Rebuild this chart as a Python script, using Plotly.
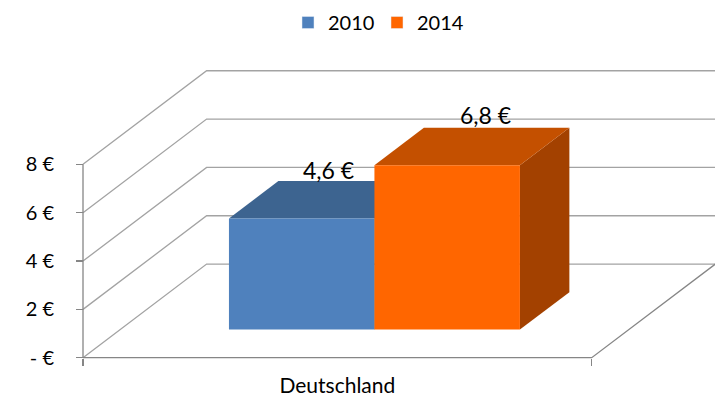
import plotly.graph_objects as go

# ---- data ----
categories = ["Deutschland"]
series_names = ["2010", "2014"]
values = [4.6, 6.8]
value_labels = ["4,6 €", "6,8 €"]
tick_values = [0, 2, 4, 6, 8]
tick_labels = ["- €", "2 €", "4 €", "6 €", "8 €"]

# ---- styling ----
front_colors = ["#4F81BD", "#FF6600"]
top_colors = ["#3D6490", "#C45000"]
side_colors = ["#2F4F75", "#A34100"]
label_shift = [(2, -30), (14, -32)]   # pixel nudges for the value labels
grid_color = "#A3A3A3"
axis_color = "#868686"
FONT = "Lato"

# oblique projection of the depth axis (x in category units, y in euros)
DX, DY = 0.2430, 3.8726
D0, D1 = 0.3, 0.7          # depth span of the bars (fraction of floor depth)
BAR_W = 0.286              # width of one bar in category units
CENTER = 0.5


def proj(u, v, d):
    return u + d * DX, v + d * DY


def poly(points):
    xs = [p[0] for p in points] + [points[0][0]]
    ys = [p[1] for p in points] + [points[0][1]]
    return xs, ys


fig = go.Figure()

# walls: diagonal gridlines on the left wall and horizontal ones on the back wall
for t in tick_values:
    x0, y0 = proj(0, t, 0)
    x1, y1 = proj(0, t, 1)
    x2, y2 = proj(1, t, 1)
    fig.add_trace(go.Scatter(x=[x0, x1, x2], y=[y0, y1, y2], mode="lines",
                             line=dict(color=grid_color, width=1.3),
                             showlegend=False, hoverinfo="skip"))

# floor: front edge, right edge and the vertical value axis
fx, fy = zip(proj(0, 0, 0), proj(1, 0, 0), proj(1, 0, 1))
fig.add_trace(go.Scatter(x=list(fx), y=list(fy), mode="lines",
                         line=dict(color=axis_color, width=1.3),
                         showlegend=False, hoverinfo="skip"))
fig.add_trace(go.Scatter(x=[0, 0], y=[0, tick_values[-1]], mode="lines",
                         line=dict(color=axis_color, width=1.3),
                         showlegend=False, hoverinfo="skip"))

# bars, drawn left to right so the right bar hides the hidden faces
n = len(values)
for i, (val, name) in enumerate(zip(values, series_names)):
    a = CENTER - n * BAR_W / 2 + i * BAR_W
    b = a + BAR_W
    base = 0
    faces = [
        ([proj(b, base, D0), proj(b, base, D1), proj(b, val, D1), proj(b, val, D0)], side_colors[i]),
        ([proj(a, val, D0), proj(b, val, D0), proj(b, val, D1), proj(a, val, D1)], top_colors[i]),
        ([proj(a, base, D0), proj(b, base, D0), proj(b, val, D0), proj(a, val, D0)], front_colors[i]),
    ]
    for pts, col in faces:
        xs, ys = poly(pts)
        fig.add_trace(go.Scatter(x=xs, y=ys, mode="lines", fill="toself",
                                 fillcolor=col, line=dict(width=0, color=col),
                                 showlegend=False, hoverinfo="skip"))
    # value label above the centre of the top face
    lx, ly = proj((a + b) / 2, val, (D0 + D1) / 2)
    fig.add_annotation(x=lx, y=ly, text=value_labels[i], showarrow=False,
                       xshift=label_shift[i][0], yshift=-label_shift[i][1],
                       font=dict(family=FONT, size=23, color="#000000"))

# legend entries
for name, col in zip(series_names, front_colors):
    fig.add_trace(go.Bar(x=[None], y=[None], name=name, marker_color=col,
                         hoverinfo="skip"))

W, H = 715, 398
X_ORIGIN, X_SCALE = 83.0, 508.7      # pixel of category 0, pixels per category unit
Y_ORIGIN, Y_SCALE = 357.7, 24.17     # pixel of 0 €, pixels per euro

fig.update_layout(
    width=W, height=H,
    margin=dict(l=0, r=0, t=0, b=0, pad=0, autoexpand=False),
    paper_bgcolor="white", plot_bgcolor="white",
    font=dict(family=FONT, size=20, color="#000000"),
    showlegend=True,
    legend=dict(orientation="h", x=(308 - 20) / W, xanchor="left",
                y=1.0 - 3 / H, yanchor="top", font=dict(family=FONT, size=20),
                entrywidth=44, entrywidthmode="pixels",
                bgcolor="rgba(0,0,0,0)", traceorder="normal"),
    xaxis=dict(range=[-X_ORIGIN / X_SCALE, (W - X_ORIGIN) / X_SCALE],
               anchor="free", position=(H - Y_ORIGIN) / H, automargin=False,
               tickmode="array", tickvals=[CENTER], ticktext=categories,
               ticks="", showgrid=False, zeroline=False, showline=False,
               tickfont=dict(family=FONT, size=21), ticklabelstandoff=13,
               minor=dict(tickmode="array", tickvals=[0, 1], ticks="outside",
                          ticklen=7, tickcolor=axis_color, tickwidth=1.3,
                          showgrid=False),
               fixedrange=True),
    yaxis=dict(range=[-(H - Y_ORIGIN) / Y_SCALE, Y_ORIGIN / Y_SCALE],
               anchor="free", position=X_ORIGIN / W, automargin=False,
               tickmode="array", tickvals=tick_values, ticktext=tick_labels,
               ticks="outside", ticklen=7, tickcolor=axis_color, tickwidth=1.3,
               showgrid=False, zeroline=False, showline=False,
               tickfont=dict(family=FONT, size=20), ticklabelstandoff=18,
               fixedrange=True),
    hovermode=False,
)

fig.write_html("out.html", config={"displayModeBar": False, "staticPlot": True})
